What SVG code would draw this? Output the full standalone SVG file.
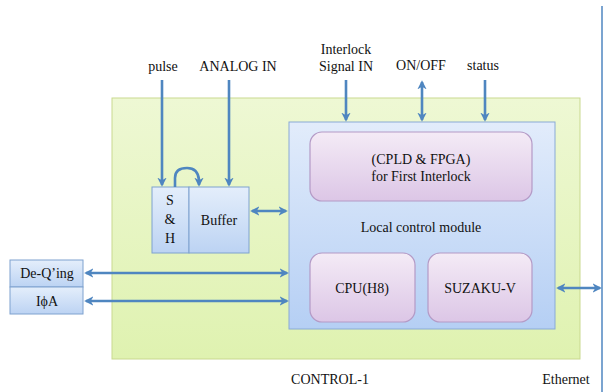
<svg xmlns="http://www.w3.org/2000/svg" width="605" height="392" viewBox="0 0 605 392">
<defs>
<linearGradient id="gG" x1="0" y1="0" x2="0" y2="1"><stop offset="0" stop-color="#eef8d4"/><stop offset="1" stop-color="#dff2b0"/></linearGradient>
<linearGradient id="gB" x1="0" y1="0" x2="0" y2="1"><stop offset="0" stop-color="#e2ecfb"/><stop offset="1" stop-color="#b5cff4"/></linearGradient>
<linearGradient id="gP" x1="0" y1="0" x2="0" y2="1"><stop offset="0" stop-color="#f4ebf6"/><stop offset="1" stop-color="#dcc6e6"/></linearGradient>
<linearGradient id="gS" x1="0" y1="0" x2="0" y2="1"><stop offset="0" stop-color="#e4eefb"/><stop offset="1" stop-color="#bcd3f3"/></linearGradient>
<marker id="ah" viewBox="0 0 10 10" refX="8" refY="5" markerWidth="3.6" markerHeight="3.6" orient="auto-start-reverse"><path d="M0,0 L10,5 L0,10 L3,5 Z" fill="#4f86c0"/></marker>
</defs>
<style>
text{font-family:'Liberation Serif','Times New Roman',serif;font-size:14px;fill:#111;text-anchor:middle}
.c{stroke:#4f86c0;stroke-width:2.6;fill:none}
.pb{fill:url(#gP);stroke:#b49ac6;stroke-width:1.2}
.sb{fill:url(#gS);stroke:#7fa2cf;stroke-width:1}
</style>
<rect width="605" height="392" fill="#fff"/>
<g id="control1">
<rect x="112" y="98" width="468" height="261" fill="url(#gG)" stroke="#c9d98f" stroke-width="1"/>
<text x="330" y="384">CONTROL-1</text>
</g>
<g id="lcm">
<rect x="289" y="122" width="266" height="207" fill="url(#gB)" stroke="#89aad6" stroke-width="1"/>
<text x="421" y="232">Local control module</text>
</g>
<g id="cpld">
<rect class="pb" x="310" y="132" width="222" height="69" rx="12"/>
<text x="421" y="164">(CPLD &amp; FPGA)</text>
<text x="421" y="181">for First Interlock</text>
</g>
<g id="cpu">
<rect class="pb" x="310" y="253" width="105" height="69" rx="12"/>
<text x="362" y="293">CPU(H8)</text>
</g>
<g id="suzaku">
<rect class="pb" x="428" y="253" width="104" height="69" rx="12"/>
<text x="480" y="293">SUZAKU-V</text>
</g>
<g id="sh">
<rect class="sb" x="152" y="187" width="37" height="66"/>
<text x="170" y="205">S</text>
<text x="170" y="224">&amp;</text>
<text x="170" y="243">H</text>
</g>
<g id="buffer">
<rect class="sb" x="189" y="187" width="60" height="66"/>
<text x="219" y="225">Buffer</text>
</g>
<g id="deqing">
<rect class="sb" x="10" y="260" width="73" height="27"/>
<text x="47" y="278">De-Q’ing</text>
</g>
<g id="ipha">
<rect class="sb" x="10" y="287" width="73" height="27"/>
<text x="47" y="306">IϕA</text>
</g>
<g id="labels">
<text x="163" y="71">pulse</text>
<text x="238" y="71">ANALOG IN</text>
<text x="346" y="54">Interlock</text>
<text x="346" y="71">Signal IN</text>
<text x="421" y="70">ON/OFF</text>
<text x="483" y="70">status</text>
<text x="566" y="384">Ethernet</text>
</g>
<g id="connectors">
<line class="c" x1="162" y1="80" x2="162" y2="185" marker-end="url(#ah)"/>
<line class="c" x1="229" y1="80" x2="229" y2="185" marker-end="url(#ah)"/>
<path class="c" d="M175,187 L175,178 Q175,168 187,168 Q198,168 199,180 L199,185" marker-end="url(#ah)"/>
<line class="c" x1="252" y1="211" x2="286" y2="211" marker-start="url(#ah)" marker-end="url(#ah)"/>
<line class="c" x1="346" y1="80" x2="346" y2="120" marker-end="url(#ah)"/>
<line class="c" x1="422" y1="82" x2="422" y2="120" marker-start="url(#ah)" marker-end="url(#ah)"/>
<line class="c" x1="485" y1="80" x2="485" y2="120" marker-end="url(#ah)"/>
<line class="c" x1="86" y1="273" x2="287" y2="273" marker-start="url(#ah)" marker-end="url(#ah)"/>
<line class="c" x1="86" y1="301" x2="287" y2="301" marker-start="url(#ah)" marker-end="url(#ah)"/>
<line class="c" x1="558" y1="288" x2="600" y2="288" marker-start="url(#ah)" marker-end="url(#ah)"/>
<line x1="602" y1="6" x2="602" y2="392" stroke="#4f86c0" stroke-width="1.5"/>
</g>
</svg>
